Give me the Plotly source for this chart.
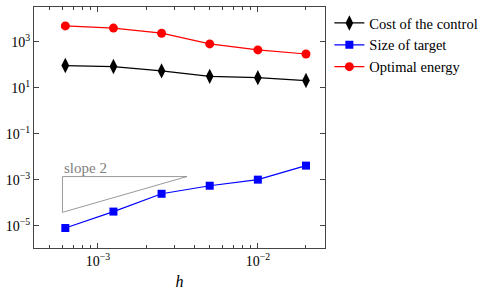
import plotly.graph_objects as go

h = [1/1600, 1/800, 1/400, 1/200, 1/100, 1/50]
cost_control = [94, 85, 55, 32, 28, 21]
size_target = [8.1e-6, 4.2e-5, 2.5e-4, 5.6e-4, 1.03e-3, 4.2e-3]
optimal_energy = [5000, 4000, 2400, 820, 450, 300]

slope_x = [6.0e-4, 6.0e-4, 3.6e-3, 6.0e-4]
slope_y = [1.4e-3, 3.9e-5, 1.4e-3, 1.4e-3]
slope_label = "slope 2"

x_tickvals = [1e-3, 1e-2]
x_ticktext = ["10<sup>−3</sup>", "10<sup>−2</sup>"]
x_minorvals = [4e-4, 5e-4, 6e-4, 7e-4, 8e-4, 9e-4,
               2e-3, 3e-3, 4e-3, 5e-3, 6e-3, 7e-3, 8e-3, 9e-3, 2e-2]
y_tickvals = [1e-5, 1e-3, 1e-1, 1e1, 1e3]
y_ticktext = ["10<sup>−5</sup>", "10<sup>−3</sup>", "10<sup>−1</sup>",
              "10<sup>1</sup>", "10<sup>3</sup>"]

font = "Liberation Serif"
axcol = "#444"

fig = go.Figure()
fig.add_trace(go.Scatter(x=slope_x, y=slope_y, mode="lines",
                         line=dict(color="#808080", width=0.8),
                         showlegend=False, hoverinfo="skip"))
fig.add_trace(go.Scatter(x=h, y=cost_control, name="Cost of the control",
                         mode="lines+markers",
                         line=dict(color="black", width=1.2),
                         marker=dict(symbol="diamond-tall", size=11, color="black")))
fig.add_trace(go.Scatter(x=h, y=size_target, name="Size of target",
                         mode="lines+markers",
                         line=dict(color="#0000ff", width=1.2),
                         marker=dict(symbol="square", size=8, color="#0000ff")))
fig.add_trace(go.Scatter(x=h, y=optimal_energy, name="Optimal energy",
                         mode="lines+markers",
                         line=dict(color="#ff0000", width=1.2),
                         marker=dict(symbol="circle", size=9, color="#ff0000")))

fig.add_annotation(x=-3.22, y=-2.857, xref="x", yref="y", text=slope_label,
                   showarrow=False, xanchor="left", yanchor="bottom", yshift=-1,
                   xshift=-1,
                   font=dict(family=font, size=15, color="#808080"))

fig.update_layout(
    width=501, height=290,
    margin=dict(l=34, r=176, t=7, b=42),
    paper_bgcolor="white", plot_bgcolor="white",
    font=dict(family=font, size=14, color="black"),
    legend=dict(x=1.015, y=1.0, xanchor="left", yanchor="top",
                bgcolor="rgba(0,0,0,0)", borderwidth=0,
                font=dict(family=font, size=14.5), tracegroupgap=0,
                itemwidth=30),
    showlegend=True,
)
fig.update_xaxes(type="log", range=[-3.4, -1.58], showgrid=False,
                 showline=True, linecolor=axcol, linewidth=1, mirror="allticks",
                 ticks="inside", ticklen=5, tickcolor=axcol,
                 tickmode="array", tickvals=x_tickvals, ticktext=x_ticktext,
                 minor=dict(ticks="inside", ticklen=3, tickcolor=axcol,
                            tickmode="array", tickvals=x_minorvals, showgrid=False),
                 title=dict(text="<i>h</i>", font=dict(family=font, size=16), standoff=20),
                 automargin=False, zeroline=False)
fig.update_yaxes(type="log", range=[-5.96, 4.52], showgrid=False,
                 showline=True, linecolor=axcol, linewidth=1, mirror="allticks",
                 ticks="inside", ticklen=5, tickcolor=axcol,
                 tickmode="array", tickvals=y_tickvals, ticktext=y_ticktext,
                 automargin=False, zeroline=False)

fig.write_html("out.html")
